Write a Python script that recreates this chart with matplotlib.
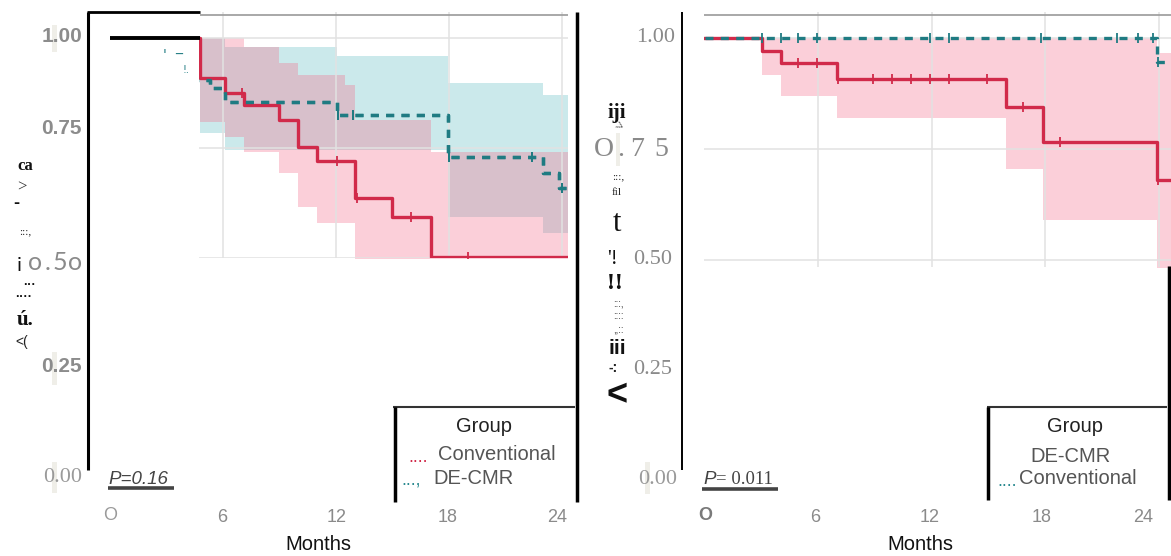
import matplotlib
matplotlib.use("Agg")
import matplotlib.pyplot as plt
import numpy as np
from matplotlib.lines import Line2D
from matplotlib.patches import Rectangle

# ---- survival data (months, survival probability) ----
# left panel, P = 0.16
conv_l_t = [0, 4.78, 6.1, 7.1, 9.0, 10.0, 11.0, 13.0, 15.0, 17.05]
conv_l_s = [1.0, 0.909, 0.875, 0.848, 0.814, 0.753, 0.72, 0.636, 0.594, 0.503]
conv_l_band_t = [4.78, 6.1, 7.1, 9.0, 10.0, 11.0, 12.5, 13.0, 17.05, 24.3]
conv_l_lo = [0.81, 0.775, 0.74, 0.693, 0.616, 0.58, 0.58, 0.45, 0.45, 0.45]
conv_l_hi = [1.0, 1.0, 0.98, 0.943, 0.916, 0.916, 0.893, 0.814, 0.74, 0.74]
conv_l_cens = [7.0, 12.05, 13.1, 16.0, 19.0]

decmr_l_t = [0, 4.0, 5.3, 6.1, 12.06, 17.95, 23.0, 23.85]
decmr_l_s = [1.0, 0.905, 0.887, 0.855, 0.825, 0.73, 0.693, 0.66]
decmr_l_band_t = [4.78, 6.1, 9.0, 12.06, 17.95, 23.0, 24.3]
decmr_l_lo = [0.784, 0.745, 0.745, 0.745, 0.593, 0.557, 0.557]
decmr_l_hi = [1.0, 0.98, 0.98, 0.96, 0.898, 0.87, 0.87]
decmr_l_cens = [12.1, 12.9, 18.0, 22.4, 24.0]

# right panel, P = 0.011
conv_r_t = [0, 3.0, 4.0, 7.0, 15.9, 17.9, 23.9]
conv_r_s = [1.0, 0.971, 0.943, 0.908, 0.845, 0.766, 0.68]
conv_r_band_t = [3.0, 4.0, 7.0, 15.9, 17.9, 23.9, 24.7]
conv_r_lo = [0.917, 0.869, 0.82, 0.705, 0.59, 0.45, 0.45]
conv_r_hi = [1.0, 1.0, 1.0, 1.0, 1.0, 0.966, 0.966]
conv_r_cens = [4.9, 5.9, 7.05, 8.9, 9.9, 10.9, 11.9, 12.9, 14.9, 16.8, 18.8, 23.95]

decmr_r_t = [0, 23.9]
decmr_r_s = [1.0, 0.945]
decmr_r_cens = [3.0, 4.0, 4.9, 5.9, 11.9, 12.9, 17.8, 21.8, 22.9, 23.7, 23.95]

month_ticks = [6, 12, 18, 24]
surv_grid = [0.5, 0.75, 1.0]

RED = "#d12a4a"
TEAL = "#1f7b82"
PINK_FILL = "#f56e8c"
TEAL_FILL = "#45b2ba"

W, H = 1171, 556
fig = plt.figure(figsize=(W / 100, H / 100), dpi=100)


def fx(x):
    return x / W


def fy(y):
    return 1 - y / H


def ftext(x, y, s, size, color="#222222", ha="center", va="center",
          family="Liberation Sans", **kw):
    fig.text(fx(x), fy(y), s, fontsize=size, color=color, ha=ha, va=va,
             family=family, zorder=5, **kw)


def fline(xs, ys, color="black", lw=2.0):
    fig.add_artist(Line2D([fx(x) for x in xs], [fy(y) for y in ys],
                          color=color, lw=lw, solid_capstyle="butt"))


def fbar(x0, y0, x1, y1, color="#efeee8"):
    fig.add_artist(Rectangle((fx(x0), fy(y1)), fx(x1) - fx(x0), fy(y0) - fy(y1),
                             transform=fig.transFigure, color=color, lw=0, zorder=0.5))


def make_panel(left_px, right_px, x0, kx, y0, ky):
    ax = fig.add_axes([fx(left_px), 0, fx(right_px) - fx(left_px), 1])
    ax.set_xlim((left_px - x0) / kx, (right_px - x0) / kx)
    ax.set_ylim((y0 - H) / ky, y0 / ky)
    ax.axis("off")
    return ax


def step_at(t, s, c):
    i = np.searchsorted(t, c, side="right") - 1
    return np.asarray(s)[i]


def km(ax, clip, t, s, band_t, lo, hi, cens, color, fill, dashed=False, alpha=0.3):
    t_end = clip[1]
    if band_t is not None:
        f = ax.fill_between(band_t, lo, hi, step="post", color=fill, alpha=alpha, lw=0)
        f.set_clip_path(clip[2])
    tt = np.append(t, t_end)
    ss = np.append(s, s[-1])
    ls = (0, (2.4, 2.2)) if dashed else "-"
    ln, = ax.step(tt, ss, where="post", color=color, lw=2.4, ls=ls)
    ln.set_clip_path(clip[2])
    cy = step_at(t, s, cens)
    mk, = ax.plot(cens, cy, ls="none", marker="|", ms=7, mew=1.3, color=color)
    mk.set_clip_path(clip[2])


def raster_frame(ax, t0, t1, s0, s1):
    rect = Rectangle((t0, s0), t1 - t0, s1 - s0, transform=ax.transData)
    for m in month_ticks:
        g, = ax.plot([m, m], [s0, s1], color="#e2e2e2", lw=1.1)
        g.set_clip_path(rect)
    for v in surv_grid:
        g, = ax.plot([t0, t1], [v, v], color="#e2e2e2", lw=1.1)
        g.set_clip_path(rect)
    return (t0, t1, rect)


# ---- left panel ----
axl = make_panel(0, 585, 110, 18.83, 478, 440)
clip_l = raster_frame(axl, 4.72, 24.3, 0.5, 1.059)
km(axl, clip_l, decmr_l_t, decmr_l_s, decmr_l_band_t, decmr_l_lo, decmr_l_hi,
   decmr_l_cens, TEAL, TEAL_FILL, dashed=True, alpha=0.28)
km(axl, clip_l, conv_l_t, conv_l_s, conv_l_band_t, conv_l_lo, conv_l_hi,
   conv_l_cens, RED, PINK_FILL, alpha=0.33)
# redraw DE-CMR line above the conventional band
km(axl, clip_l, decmr_l_t, decmr_l_s, None, None, None, decmr_l_cens, TEAL, TEAL_FILL, dashed=True)
axl.plot([0, 4.78], [1.0, 1.0], color="black", lw=2.8, solid_capstyle="butt")

# ---- right panel ----
axr = make_panel(585, 1171, 705, 18.9, 482, 444)
clip_r = raster_frame(axr, -0.05, 24.66, 0.484, 1.0586)
km(axr, clip_r, conv_r_t, conv_r_s, conv_r_band_t, conv_r_lo, conv_r_hi,
   conv_r_cens, RED, PINK_FILL, alpha=0.33)
km(axr, clip_r, decmr_r_t, decmr_r_s, None, None, None, decmr_r_cens, TEAL, TEAL_FILL, dashed=True)

# ---- frame lines ----
fline([200, 568], [15, 15], color="#9a9a9a", lw=1.2)
fline([704, 1171], [15, 15], color="#9a9a9a", lw=1.2)
fline([88, 88], [12, 470], lw=2.2)
fline([87, 200], [12, 12], lw=2.0)
fline([577, 577], [12, 502], lw=2.5)
fline([682, 682], [12, 470], lw=1.4)
fline([1169, 1169], [266, 500], lw=2.5)

# legend boxes
fline([393, 575], [407, 407], color="#333333", lw=1.5)
fline([395, 395], [407, 502], lw=2.5)
fline([987, 1167], [407, 407], color="#333333", lw=1.5)
fline([988, 988], [407, 500], lw=2.5)

# p-value underlines
fline([108, 174], [488, 488], color="#444444", lw=2.6)
fline([702, 778], [489, 489], color="#444444", lw=2.6)

# pale bars behind tick labels
fbar(52, 25, 57, 52)
fbar(52, 352, 57, 385)
fbar(52, 462, 57, 493)
fbar(616, 133, 620, 166)
fbar(645, 462, 650, 494)

# ---- left y tick labels ----
GREY = "#8c8c8c"
ftext(82, 36, "1.00", 15, GREY, ha="right", weight="bold")
ftext(82, 129, "0.75", 15, GREY, ha="right", weight="bold")
for ch, x in zip("o.5o", [35, 48, 60, 75]):
    ftext(x, 263, ch, 18, "#8a8a8a", family=["Lato", "DejaVu Sans"])
ftext(82, 367, "0.25", 15, GREY, ha="right", weight="bold")
ftext(82, 478, "0.00", 16, "#9a9a9a", ha="right", family="Liberation Serif")

# left garbled axis title
ftext(25, 166, "ca", 12, "#111111", family="Liberation Serif", weight="bold")
ftext(22, 188, ">", 12, "#333333", family="Liberation Serif")
ftext(16, 204, "-", 13, "#111111", weight="bold")
ftext(25, 232, ":::,", 8, "#222222", family="Liberation Serif")
ftext(19, 263, "¡", 15, "#111111")
ftext(29, 285, "···", 9, "#111111", weight="bold")
ftext(24, 297, "····", 9, "#111111", weight="bold")
ftext(25, 320, "ú.", 15, "#111111", family="Liberation Serif", weight="bold")
ftext(22, 342, "<(", 10, "#222222")

# teal fragments left of the left raster
ftext(165, 55, "'", 10, TEAL, family="DejaVu Sans")
ftext(179, 61, "‾", 10, TEAL, family="DejaVu Sans")
ftext(186, 70, "!.", 7, TEAL, family="DejaVu Sans")

# ---- right y tick labels ----
ftext(675, 37, "1.00", 16, "#8a8a8a", ha="right", family="Liberation Serif")
for ch, x in zip("O.75", [604, 621, 637, 661]):
    ftext(x, 150, ch, 20, "#8a8a8a", family="Liberation Serif")
ftext(672, 260, "0.50", 16, "#8a8a8a", ha="right", family="Liberation Serif")
ftext(672, 370, "0.25", 16, "#8a8a8a", ha="right", family="Liberation Serif")
ftext(677, 479, "0.00", 16, "#9a9a9a", ha="right", family="Liberation Serif")

# right garbled axis title
ftext(617, 113, "iji", 15, "#111111", family="Liberation Serif", weight="bold")
ftext(618, 127, ">", 10, "#333333", family="Liberation Serif", rotation=-30)
ftext(618, 177, ":::,", 8, "#222222", family="Liberation Serif")
ftext(617, 192, "fil", 8, "#222222", family="Liberation Serif")
ftext(617, 224, "t", 22, "#111111", family="Liberation Serif")
ftext(613, 259, "'!", 15, "#111111", family="Liberation Serif")
ftext(615, 283, "!!", 17, "#111111", family="Liberation Serif", weight="bold")
ftext(618, 303, ":::,", 7, "#222222")
ftext(618, 316, "::::", 7, "#222222")
ftext(618, 329, ",,::", 7, "#222222")
ftext(617, 349, "iii", 15, "#111111", weight="bold")
ftext(613, 368, "-:", 10, "#222222", weight="bold")
ftext(617, 396, "<", 26, "#111111", weight="bold")

# ---- x tick labels ----
XG = "#8a8a8a"
ftext(110, 516, "O", 13, "#9a9a9a")
for lab, x in zip(["6", "12", "18", "24"], [222, 337, 448, 557]):
    ftext(x, 517, lab, 13, XG)
ftext(705, 516, "O", 13, "#7a7a7a", weight="bold")
for lab, x in zip(["6", "12", "18", "24"], [815, 930, 1042, 1143]):
    ftext(x, 517, lab, 13, XG)
ftext(318, 545, "Months", 14.5, "#111111")
ftext(920, 545, "Months", 14.5, "#111111")

# ---- legends ----
ftext(484, 427, "Group", 14.5, "#222222")
ftext(438, 455, "Conventional", 14.5, "#555555", ha="left")
ftext(418, 458, "....", 13, RED)
ftext(433, 478, "DE-CMR", 14.5, "#555555", ha="left")
ftext(411, 481, "...,", 13, "#2a8a90")

ftext(1075, 427, "Group", 14.5, "#222222")
ftext(1070, 457, "DE-CMR", 14.5, "#555555")
ftext(1019, 478, "Conventional", 14.5, "#555555", ha="left")
ftext(1007, 481, "....", 13, "#2a8a90")

# ---- p-values ----
ftext(108, 479, "P=0.16", 13.5, "#444444", ha="left", style="italic")
ftext(703, 479, "P", 13.5, "#444444", ha="left", style="italic")
ftext(716, 479, "= 0.011", 13.5, "#444444", ha="left", family="Liberation Serif")

fig.savefig("out.png", dpi=100, facecolor="white")
